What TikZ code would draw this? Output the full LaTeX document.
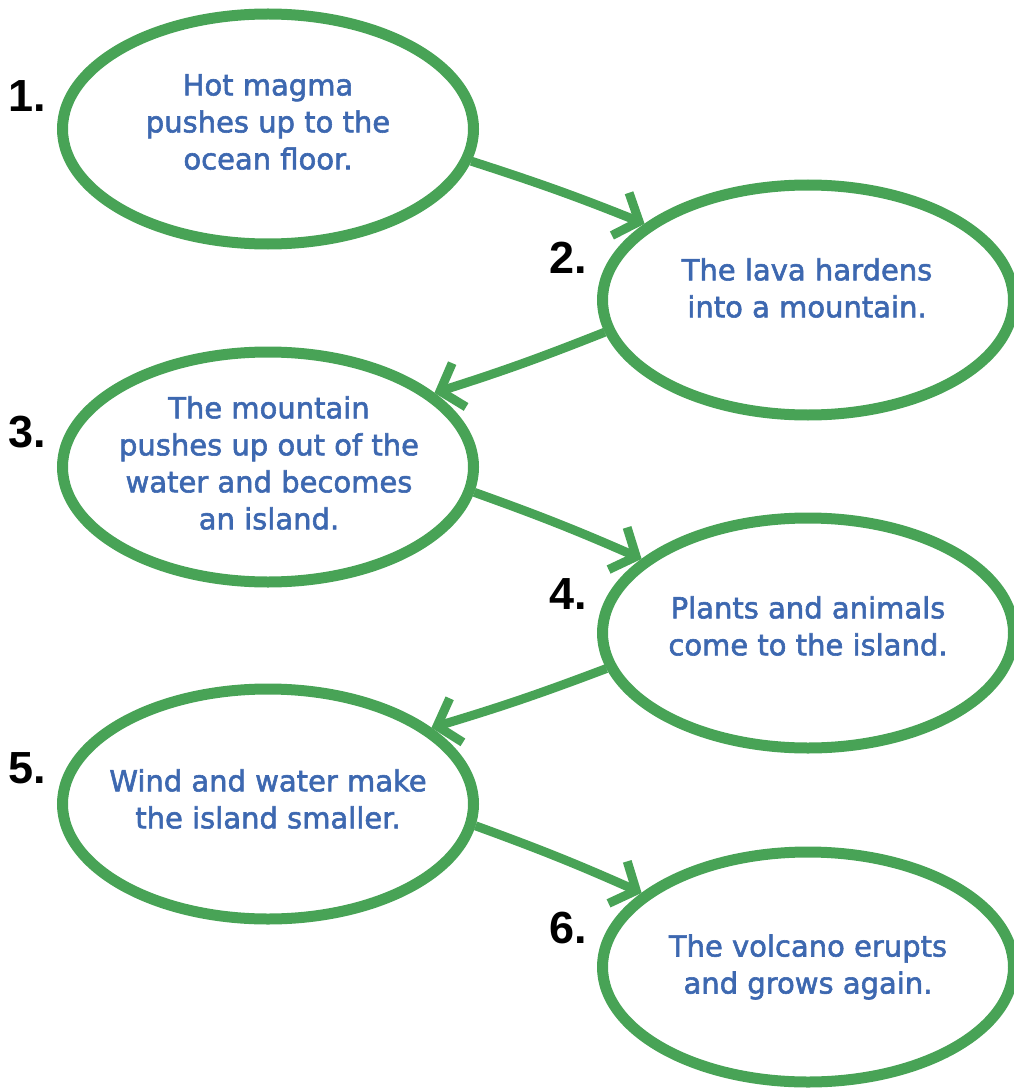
\documentclass[tikz,border=0pt]{standalone}
\usepackage{fontspec}
\setmainfont{DejaVu Sans}
\newfontfamily\inkfont[FakeBold=2]{DejaVu Sans}
\newfontfamily\numfont{Liberation Sans}
\usetikzlibrary{shapes.geometric,arrows.meta}
\definecolor{leafgreen}{RGB}{72,163,86}
\definecolor{inkblue}{RGB}{61,104,176}

\begin{document}
\begin{tikzpicture}[x=1pt,y=-1pt,
		bubble/.style={draw=leafgreen, line width=11pt, ellipse, minimum width=411pt, minimum height=230pt, inner sep=0pt},
		words/.style={text=inkblue, align=center, font=\inkfont\fontsize{29}{37}\selectfont},
		num/.style={inner sep=0pt, font=\numfont\bfseries\fontsize{45}{45}\selectfont},
		flow/.style={draw=leafgreen, line width=9pt, -{Straight Barb[length=20pt,width=46pt]}}]
	
	\useasboundingbox (0,0) rectangle (1013,1091);
	
	\node[bubble] (s1) at (268,129) {};
	\node[bubble] (s2) at (808,300) {};
	\node[bubble] (s3) at (268,467) {};
	\node[bubble] (s4) at (808,633) {};
	\node[bubble] (s5) at (268,804) {};
	\node[bubble] (s6) at (808,967) {};
	
	\node[words] (t1) at (268,122) {Hot magma\\pushes up to the\\ocean floor.};
	\node[words] (t2) at (807,288) {The lava hardens\\into a mountain.};
	\node[words] (t3) at (269,463) {The mountain\\pushes up out of the\\water and becomes\\an island.};
	\node[words] (t4) at (808,626) {Plants and animals\\come to the island.};
	\node[words] (t5) at (268,799) {Wind and water make\\the island smaller.};
	\node[words] (t6) at (808,967) {The volcano erupts\\and grows again.};
	
	\node[num] (n1) at (27,96) {1.};
	\node[num] (n2) at (568,258) {2.};
	\node[num] (n3) at (27,432) {3.};
	\node[num] (n4) at (568,594) {4.};
	\node[num] (n5) at (27,768) {5.};
	\node[num] (n6) at (568,928) {6.};
	
	\draw[flow] (s1.-9) to[bend left=2] (s2.155);
	\draw[flow] (s2.-171) to[bend left=2] (s3.24);
	\draw[flow] (s3.-7) to[bend left=2] (s4.156);
	\draw[flow] (s4.-170) to[bend left=2] (s5.25);
	\draw[flow] (s5.-6) to[bend left=2] (s6.156);
	
\end{tikzpicture}
\end{document}
